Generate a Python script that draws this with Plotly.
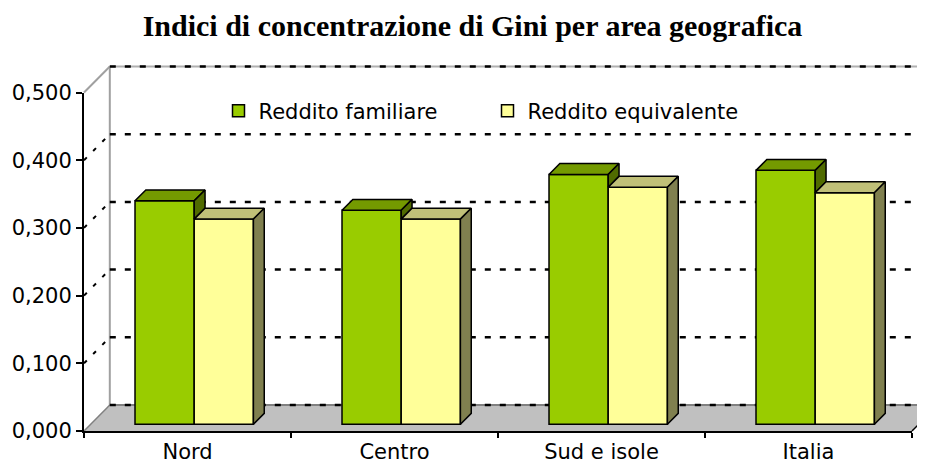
import plotly.graph_objects as go

# ---------------- data ----------------
categories = ["Nord", "Centro", "Sud e isole", "Italia"]
reddito_familiare = [0.330, 0.316, 0.369, 0.375]
reddito_equivalente = [0.303, 0.303, 0.350, 0.342]
series_names = ["Reddito familiare", "Reddito equivalente"]
y_tick_values = [0.0, 0.1, 0.2, 0.3, 0.4, 0.5]
title_text = "Indici di concentrazione di Gini per area geografica"

# ---------------- geometry / style ----------------
W, H = 925, 464
OFF = 8                       # page body margin of the html page
PL, PR, PT, PB = 78, 925, 56, 436   # plot area on screen (px)
ML, MR, MT, MB = PL - OFF, W - (PR - OFF), PT - OFF, H - (PB - OFF)
PX_X = 207.0          # pixels per category
PX_Y = 677.0          # pixels per value unit
X0 = -6 / PX_X
X1 = X0 + (PR - PL) / PX_X
Y0 = -5 / PX_Y
Y1 = Y0 + (PB - PT) / PX_Y
DX, DY = 25.8 / PX_X, 26.0 / PX_Y     # full depth of the 3D box
F0, F1 = 0.26, 0.68                   # bar depth (fractions of box depth)
BAR_W = 0.286
GROUP_OFF = 0.214
YMAX = max(y_tick_values)
n = len(categories)

GREEN = ["#99CC00", "#749A00", "#506B00"]   # front, top, side
YELLOW = ["#FFFF99", "#C0C078", "#80804F"]
FONT = "DejaVu Sans"
FS = 21


def xpaper(v):
    return (v - X0) / (X1 - X0)


def ypaper(v):
    return (v - Y0) / (Y1 - Y0)


def px2paper_x(px):
    return (px - PL) / (PR - PL)


def px2paper_y(py):
    return (PB - py) / (PB - PT)


base = F0 * DY
ddx, ddy = (F1 - F0) * DX, (F1 - F0) * DY


def left_edge(i, k):
    return i + GROUP_OFF + k * BAR_W + F0 * DX


fig = go.Figure()

# front faces (bars)
for k, (vals, cols, name) in enumerate([(reddito_familiare, GREEN, series_names[0]),
                                         (reddito_equivalente, YELLOW, series_names[1])]):
    fig.add_trace(go.Bar(
        x=[left_edge(i, k) + BAR_W / 2 for i in range(n)],
        y=vals, base=[base] * n, width=BAR_W, name=name,
        marker=dict(color=cols[0], line=dict(color="black", width=1.5)),
        hoverinfo="skip"))


def poly_trace(polys, color):
    xs, ys = [], []
    for p in polys:
        for (a, b) in p + [p[0]]:
            xs.append(a)
            ys.append(b)
        xs.append(None)
        ys.append(None)
    return go.Scatter(x=xs, y=ys, mode="lines", fill="toself", fillcolor=color,
                      line=dict(color="black", width=1.5), showlegend=False,
                      hoverinfo="skip")


def top_poly(xl, xr, yt):
    return [(xl, yt), (xr, yt), (xr + ddx, yt + ddy), (xl + ddx, yt + ddy)]


g_tops, g_sides, y_tops, y_sides = [], [], [], []
for i in range(n):
    gl, gr = left_edge(i, 0), left_edge(i, 0) + BAR_W
    yl, yr = left_edge(i, 1), left_edge(i, 1) + BAR_W
    gt = base + reddito_familiare[i]
    yt = base + reddito_equivalente[i]
    g_tops.append(top_poly(gl, gr, gt))
    if gt > yt:
        g_sides.append([(gr, yt), (gr, gt), (gr + ddx, gt + ddy), (gr + ddx, yt + ddy)])
    y_tops.append(top_poly(yl, yr, yt))
    y_sides.append([(yr, base), (yr, yt), (yr + ddx, yt + ddy), (yr + ddx, base + ddy)])

fig.add_trace(poly_trace(g_tops, GREEN[1]))
if g_sides:
    fig.add_trace(poly_trace(g_sides, GREEN[2]))
fig.add_trace(poly_trace(y_tops, YELLOW[1]))
fig.add_trace(poly_trace(y_sides, YELLOW[2]))

# dummy trace on front-axis subplot
fig.add_trace(go.Scatter(x=[0], y=[0], xaxis="x2", yaxis="y2", mode="markers",
                         marker=dict(size=0, opacity=0), showlegend=False,
                         hoverinfo="skip"))

# ---------------- walls, floor, gridlines ----------------
shapes = []
shapes.append(dict(type="path", xref="x", yref="y", layer="below",
                   path=f"M 0,0 L {n},0 L {n + DX},{DY} L {DX},{DY} Z",
                   fillcolor="#C0C0C0", line=dict(width=0)))
shapes.append(dict(type="line", xref="x", yref="y", layer="below",
                   x0=n, y0=0, x1=n + DX, y1=DY, line=dict(color="black", width=1.5)))
shapes.append(dict(type="line", xref="x", yref="y", layer="below",
                   x0=0, y0=0, x1=DX, y1=DY, line=dict(color="#808080", width=1.5)))
shapes.append(dict(type="line", xref="x", yref="y", layer="below",
                   x0=DX, y0=DY, x1=n + DX, y1=DY, line=dict(color="#808080", width=2)))
shapes.append(dict(type="line", xref="x", yref="y", layer="below",
                   x0=DX, y0=DY, x1=DX, y1=YMAX + DY, line=dict(color="#A0A0A0", width=2)))
shapes.append(dict(type="line", xref="x", yref="y", layer="below",
                   x0=0, y0=YMAX, x1=DX, y1=YMAX + DY, line=dict(color="#A0A0A0", width=2)))
shapes.append(dict(type="line", xref="x", yref="y", layer="below",
                   x0=DX, y0=YMAX + DY, x1=n + DX, y1=YMAX + DY,
                   line=dict(color="#B0B0B0", width=2)))
for v in y_tick_values:
    shapes.append(dict(type="line", xref="x", yref="y", layer="below",
                       x0=DX, y0=v + DY, x1=n + DX, y1=v + DY,
                       line=dict(color="black", width=2.5, dash="6px,9px")))
    if 0 < v < YMAX:
        shapes.append(dict(type="line", xref="x", yref="y", layer="below",
                           x0=0, y0=v, x1=DX, y1=v + DY,
                           line=dict(color="black", width=2, dash="4px,9px")))
# white legend box
shapes.append(dict(type="rect", xref="paper", yref="paper", layer="below",
                   x0=px2paper_x(198), x1=px2paper_x(766),
                   y0=px2paper_y(142), y1=px2paper_y(84),
                   fillcolor="white", line=dict(width=0)))

fig.update_layout(
    width=W, height=H,
    margin=dict(l=ML, r=MR, t=MT, b=MB),
    paper_bgcolor="white", plot_bgcolor="rgba(0,0,0,0)",
    separators=",.",
    barmode="overlay",
    hovermode=False,
    shapes=shapes,
    title=dict(text=f"<b>{title_text}</b>", xref="container", x=(472.5 - OFF) / W,
               xanchor="center", yref="container", y=1 - (25 - OFF) / H,
               yanchor="middle",
               font=dict(family="Liberation Serif", size=30, color="black")),
    legend=dict(orientation="h", x=px2paper_x(218.5), xanchor="left",
                y=px2paper_y(111), yanchor="middle", bgcolor="rgba(0,0,0,0)",
                font=dict(family=FONT, size=FS, color="black"),
                entrywidth=224, traceorder="normal"),
    xaxis=dict(range=[X0, X1], visible=False, domain=[0, 1], fixedrange=True),
    yaxis=dict(range=[Y0, Y1], visible=False, domain=[0, 1], fixedrange=True),
    xaxis2=dict(domain=[xpaper(0), xpaper(n)], range=[0, n], anchor="y2",
                showline=True, linecolor="black", linewidth=2, showgrid=False,
                zeroline=False, tickmode="array", automargin=False,
                tickvals=[i + 0.5 for i in range(n)], ticktext=categories,
                ticks="", ticklabelstandoff=1,
                tickfont=dict(family=FONT, size=FS, color="black"),
                minor=dict(tickmode="array", tickvals=list(range(n + 1)),
                           ticks="outside", ticklen=5, tickcolor="black",
                           tickwidth=1.5, showgrid=False),
                fixedrange=True),
    yaxis2=dict(domain=[ypaper(0), ypaper(YMAX)], range=[0, YMAX], anchor="x2",
                showline=True, linecolor="black", linewidth=2, showgrid=False,
                zeroline=False, tickmode="array", tickvals=y_tick_values,
                tickformat=".3f", ticks="outside", ticklen=6, tickcolor="black",
                tickwidth=1.5, ticklabelstandoff=0, automargin=False,
                tickfont=dict(family=FONT, size=FS, color="black"),
                fixedrange=True),
)

fig.write_html("out.html")
